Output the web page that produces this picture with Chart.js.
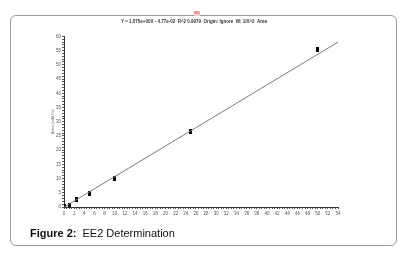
<!DOCTYPE html>
<html>
<head>
<meta charset="utf-8">
<script src="https://cdn.jsdelivr.net/npm/chart.js@4"></script>
<style>
  html, body { margin: 0; padding: 0; background: #fff; }
  body { width: 410px; height: 254px; position: relative; overflow: hidden; font-family: "Liberation Sans", Arial, sans-serif; }
  .frame { position: absolute; left: 10px; top: 15px; width: 387px; height: 231px; border: 1px solid #9a9a9a; border-radius: 6px; box-sizing: border-box; }
  .caption { position: absolute; left: 30px; top: 227px; font-size: 11px; color: #111; }
  .caption b { margin-right: 3px; }
  #chart { position: absolute; left: 0; top: 0; }
</style>
</head>
<body>
<div class="frame"></div>
<canvas id="chart" width="410" height="254"></canvas>
<div class="caption"><b>Figure 2:</b> EE2 Determination</div>
<script>
// calibration points
const concentrations = [0, 1, 2.5, 5, 10, 25, 50];
const areas = [0.3, 0.7, 2.5, 4.9, 9.9, 26.6, 55.4];

// fitted line end points
const fitX = [0, 54];
const fitY = [-0.05, 58.0];

const titleLine = 'Y = 1.075e+00X - 4.77e-02  R^2 0.9979  Origin: Ignore  W: 1/X^2  Area';

// small upright black bar used as the point marker
const marker = document.createElement('canvas');
marker.width = 3;
marker.height = 5;
const mctx = marker.getContext('2d');
mctx.fillStyle = '#000';
mctx.fillRect(0, 0, 3, 5);

const tickFont = { family: 'Liberation Sans', size: 4.5 };

const ctx = document.getElementById('chart').getContext('2d');
new Chart(ctx, {
  type: 'scatter',
  data: {
    datasets: [
      {
        label: 'fit',
        type: 'line',
        data: fitX.map((x, i) => ({ x: x, y: fitY[i] })),
        borderColor: '#7a7a7a',
        borderWidth: 1,
        pointRadius: 0,
        fill: false,
      },
      {
        label: 'EE2',
        data: concentrations.map((x, i) => ({ x: x, y: areas[i] })),
        pointStyle: marker,
        pointRadius: 3,
        backgroundColor: '#000',
      },
    ],
  },
  options: {
    responsive: false,
    animation: false,
    layout: { padding: { left: 50, top: 0, right: 72, bottom: 0 } },
    plugins: {
      legend: { display: false },
      tooltip: { enabled: false },
      title: {
        display: true,
        text: titleLine,
        color: '#333',
        font: { family: 'Liberation Sans', size: 4.5 },
        padding: { top: 19, bottom: 12 },
      },
      subtitle: {
        display: false,
      },
    },
    scales: {
      x: {
        type: 'linear',
        min: 0,
        max: 54,
        afterFit: (scale) => { scale.height = 47; },
        border: { color: '#333', width: 1 },
        grid: { drawOnChartArea: false, tickLength: 2, color: '#555' },
        ticks: {
          stepSize: 0.5,
          autoSkip: false,
          maxRotation: 0,
          padding: 2,
          color: '#555',
          font: tickFont,
          callback: (v) => (v % 2 === 0 ? String(v) : ''),
        },
      },
      y: {
        type: 'linear',
        min: 0,
        max: 60,
        afterFit: (scale) => { scale.width = 14; },
        border: { color: '#333', width: 1 },
        grid: { drawOnChartArea: false, tickLength: 2, color: '#555' },
        title: {
          display: true,
          text: 'Area (mAU*s)',
          color: '#666',
          font: { family: 'Liberation Sans', size: 4 },
          padding: 0,
        },
        ticks: {
          stepSize: 1,
          autoSkip: false,
          padding: 1,
          color: '#555',
          font: tickFont,
          callback: (v) => (v % 5 === 0 ? String(v) : ''),
        },
      },
    },
  },
  plugins: [{
    id: 'sampleTag',
    afterDraw(chart) {
      const c = chart.ctx;
      const cx = (chart.chartArea.left + chart.chartArea.right) / 2 - 4;
      c.save();
      c.fillStyle = '#f6c9c9';
      c.fillRect(cx - 3, 11, 6, 5);
      c.fillStyle = '#d05050';
      c.font = '3px "Liberation Sans"';
      c.textAlign = 'center';
      c.textBaseline = 'middle';
      c.fillText('EE2', cx, 13.5);
      c.restore();
    },
  }],
});
</script>
</body>
</html>
